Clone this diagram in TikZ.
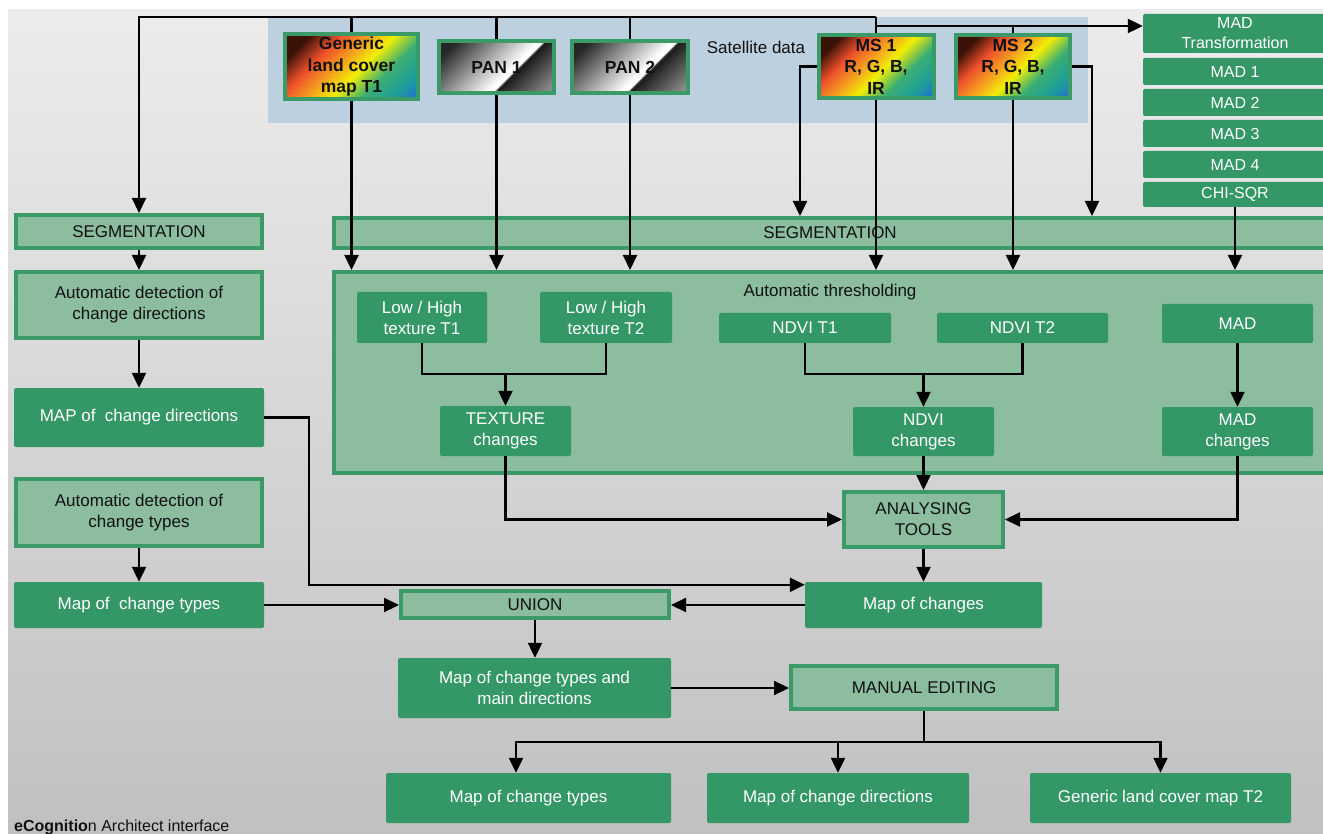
\documentclass[tikz,border=0pt]{standalone}
\usepackage{fontspec}
\setmainfont{Liberation Sans}
\usepackage{tikz}
\usetikzlibrary{positioning, arrows.meta, calc}
\definecolor{boxGreen}{HTML}{349866}
\definecolor{paleGreen}{HTML}{8BBD9E}
\definecolor{edgeGreen}{HTML}{3A9B69}
\definecolor{satBlue}{HTML}{BCD0E0}
\definecolor{bgTop}{HTML}{ECECEC}
\definecolor{bgBottom}{HTML}{C0C0C0}
\definecolor{inkBlack}{HTML}{111111}
\definecolor{lcBrown}{HTML}{3B1208}
\definecolor{lcRed}{HTML}{EE4F2B}
\definecolor{lcOrange}{HTML}{F5A020}
\definecolor{lcYellow}{HTML}{F2EE05}
\definecolor{lcGreen}{HTML}{3AAE72}
\definecolor{lcTeal}{HTML}{1E9E9A}
\definecolor{lcBlue}{HTML}{2166DD}
\pgfdeclarehorizontalshading{landcover}{100bp}{color(0bp)=(lcBrown); color(24bp)=(lcBrown); color(35bp)=(lcRed); color(45bp)=(lcOrange); color(54bp)=(lcYellow); color(65bp)=(lcGreen); color(76bp)=(lcTeal); color(86bp)=(lcBlue); color(100bp)=(lcBlue)}
\pgfdeclarehorizontalshading{metal}{100bp}{color(0bp)=(black!85); color(22bp)=(black!85); color(57bp)=(white); color(59bp)=(white); color(60bp)=(black!90); color(82bp)=(black!45); color(100bp)=(black!45)}

\begin{document}
\begin{tikzpicture}[x=1pt, y=-1pt,
    boxfont/.style={font=\fontsize{17}{21}\selectfont},
    darkbox/.style={boxfont, fill=boxGreen, text=white, rounded corners=2pt, align=center, inner sep=0pt},
    lightbox/.style={boxfont, fill=paleGreen, draw=edgeGreen, line width=4pt, text=inkBlack, align=center, inner sep=0pt},
    srcbox/.style={draw=edgeGreen, line width=4pt, shade, shading angle=-45, align=center, inner sep=0pt, text=inkBlack, font=\fontsize{17.5}{21.5}\selectfont\bfseries},
    madbox/.style={fill=boxGreen, text=white, rounded corners=2pt, align=center, inner sep=0pt, minimum width=184pt, font=\fontsize{16}{20}\selectfont},
    link/.style={line width=2.2pt, draw=black},
    arr/.style={link, -{Triangle[length=15pt,width=14pt]}}]
\useasboundingbox (0,0) rectangle (1323,834);
\clip (0,0) rectangle (1323,834);
\fill[white] (0,0) rectangle (1323,834);
\shade[top color=bgTop, bottom color=bgBottom] (8,10) rectangle (1323,834);
\fill[satBlue] (268,17) rectangle (1088,123);

% satellite inputs
\node[srcbox, shading=landcover, minimum width=133pt, minimum height=65pt] (gen) at (351.5,66.5) {Generic\\land cover\\map T1};
\node[srcbox, shading=metal, minimum width=115pt, minimum height=52pt] (pan1) at (496.5,67) {PAN 1};
\node[srcbox, shading=metal, minimum width=116pt, minimum height=52pt] (pan2) at (630,67) {PAN 2};
\node[boxfont, text=inkBlack] (satLbl) at (756,47) {Satellite data};
\node[srcbox, shading=landcover, minimum width=115pt, minimum height=63pt] (ms1) at (876,66.5) {MS 1\\R, G, B,\\IR};
\node[srcbox, shading=landcover, minimum width=114pt, minimum height=63pt] (ms2) at (1013,66.5) {MS 2\\R, G, B,\\IR};

% MAD column
\node[madbox, minimum height=39pt] (madT) at (1235,33.5) {MAD\\Transformation};
\node[madbox, minimum height=27pt] (mad1) at (1235,71.5) {MAD 1};
\node[madbox, minimum height=27pt] (mad2) at (1235,102.5) {MAD 2};
\node[madbox, minimum height=27pt] (mad3) at (1235,133.5) {MAD 3};
\node[madbox, minimum height=27pt] (mad4) at (1235,164.5) {MAD 4};
\node[madbox, minimum height=25pt] (chi) at (1235,194.5) {CHI-SQR};

% left column
\node[lightbox, minimum width=246pt, minimum height=33pt] (segL) at (139,231.5) {SEGMENTATION};
\node[lightbox, minimum width=246pt, minimum height=66pt] (autoDir) at (139,305) {Automatic detection of\\change directions};
\node[darkbox, minimum width=250pt, minimum height=59pt] (mapDir) at (139,417.5) {MAP of\ \ change directions};
\node[lightbox, minimum width=246pt, minimum height=67pt] (autoType) at (139,512.5) {Automatic detection of\\change types};
\node[darkbox, minimum width=250pt, minimum height=46pt] (mapType) at (139,605) {Map of\ \ change types};

% segmentation and thresholding
\node[lightbox, minimum width=999pt, minimum height=30pt] (segR) at (833.5,233) {};
\node[boxfont, text=inkBlack] (segRLbl) at (830,233) {SEGMENTATION};
\node[lightbox, minimum width=999pt, minimum height=201pt] (thr) at (833.5,372.5) {};
\node[boxfont, text=inkBlack] (thrLbl) at (830,292) {Automatic thresholding};
\node[darkbox, minimum width=130pt, minimum height=51pt] (tex1) at (422,317.5) {Low / High\\texture T1};
\node[darkbox, minimum width=132pt, minimum height=51pt] (tex2) at (606,317.5) {Low / High\\texture T2};
\node[darkbox, minimum width=131pt, minimum height=50pt] (texCh) at (505.5,431) {TEXTURE\\changes};
\node[darkbox, minimum width=172pt, minimum height=30pt] (ndvi1) at (805,328) {NDVI T1};
\node[darkbox, minimum width=171pt, minimum height=30pt] (ndvi2) at (1022.5,328) {NDVI T2};
\node[darkbox, minimum width=141pt, minimum height=49pt] (ndviCh) at (923.5,431.5) {NDVI\\changes};
\node[darkbox, minimum width=151pt, minimum height=39pt] (mad) at (1237.5,323.5) {MAD};
\node[darkbox, minimum width=151pt, minimum height=49pt] (madCh) at (1237.5,431.5) {MAD\\changes};

% analysis and outputs
\node[lightbox, minimum width=159pt, minimum height=55pt] (anal) at (923.5,519.5) {ANALYSING\\TOOLS};
\node[darkbox, minimum width=237pt, minimum height=46pt] (mapCh) at (923.5,605) {Map of changes};
\node[lightbox, minimum width=268pt, minimum height=27pt] (union) at (535,604.5) {UNION};
\node[darkbox, minimum width=273pt, minimum height=60pt] (mapTD) at (534.5,688) {Map of change types and\\main directions};
\node[lightbox, minimum width=266pt, minimum height=43pt] (manual) at (924,687.5) {MANUAL EDITING};
\node[darkbox, minimum width=285pt, minimum height=50pt] (out1) at (528.5,798) {Map of change types};
\node[darkbox, minimum width=262pt, minimum height=50pt] (out2) at (838,798) {Map of change directions};
\node[darkbox, minimum width=261pt, minimum height=50pt] (out3) at (1160.5,798) {Generic land cover map T2};
\node[anchor=base west, inner sep=0pt, text=inkBlack, font=\fontsize{16}{18}\selectfont] (credit) at (14,831) {\textbf{eCognitio}n Architect interface};

% connectors
\coordinate (busA) at (876,17);
\coordinate (busB) at (876,26);
\coordinate (msDropL) at (800,0);
\coordinate (msDropR) at (1092,0);
\draw[arr] (busA) -| (segL.north);
\draw[link] (gen.north |- busA) -- (gen.north);
\draw[link] (pan1.north |- busA) -- (pan1.north);
\draw[link] (pan2.north |- busA) -- (pan2.north);
\draw[link] (busA) -- (busB) -- (ms1.north);
\draw[arr] (busB) -- (madT.west |- busB);
\draw[link] (ms2.north |- busB) -- (ms2.north);
\draw[arr] (gen.south) -- (gen.south |- thr.north);
\draw[arr] (pan1.south) -- (pan1.south |- thr.north);
\draw[arr] (pan2.south) -- (pan2.south |- thr.north);
\draw[arr] (ms1.south) -- (ms1.south |- thr.north);
\draw[arr] (ms2.south) -- (ms2.south |- thr.north);
\draw[arr] (ms1.west) -| (msDropL |- segR.north);
\draw[arr] (ms2.east) -| (msDropR |- segR.north);
\draw[arr] (chi.south) -- (chi.south |- thr.north);

\draw[arr] (segL) -- (autoDir);
\draw[arr] (autoDir) -- (mapDir);
\draw[arr] (autoType) -- (mapType);
\draw[arr] (mapType.east) -- (mapType.east -| union.west);
\draw[arr] (mapDir.east) -- ++(45,0) |- ([yshift=-3pt]mapCh.north west);

\coordinate (texJoin) at (505.5,374);
\coordinate (ndviJoin) at (923.5,374);
\draw[link] (tex1.south) |- (texJoin) -| (tex2.south);
\draw[arr] (texJoin) -- (texCh.north);
\draw[link] (ndvi1.south) |- (ndviJoin) -| (ndvi2.south);
\draw[arr] (ndviJoin) -- (ndviCh.north);
\draw[arr] (mad) -- (madCh);
\draw[arr] (ndviCh) -- (anal);
\draw[arr] (texCh.south) |- (anal.west);
\draw[arr] (madCh.south) |- (anal.east);
\draw[arr] (anal) -- (mapCh);
\draw[arr] (mapCh.west) -- (mapCh.west -| union.east);
\draw[arr] (union.south) -- (union.south |- mapTD.north);
\draw[arr] (mapTD.east) -- (mapTD.east -| manual.west);

\coordinate (split) at (924,742);
\coordinate (splitL) at (516,742);
\draw[link] (manual.south) -- (split);
\draw[arr] (split) -| (out2.north);
\draw[arr] (split) -| (out3.north);
\draw[arr] (split) -- (splitL) -- (splitL |- out1.north);
\end{tikzpicture}
\end{document}
